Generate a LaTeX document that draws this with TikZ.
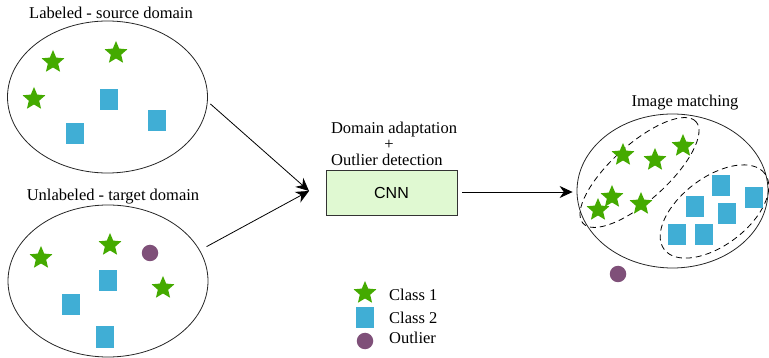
\documentclass[tikz,border=0pt]{standalone}
\usepackage{fontspec}
\setmainfont{Liberation Serif}
\newfontfamily\sansf{Liberation Sans}
\usetikzlibrary{shapes.geometric,arrows.meta}
\definecolor{stargreen}{HTML}{44AA00}
\definecolor{sqblue}{HTML}{40AED5}
\definecolor{outpurple}{HTML}{7F5079}
\definecolor{boxgreen}{HTML}{E0F9D2}
\begin{document}
\begin{tikzpicture}[x=1pt,y=-1pt,
  every node/.style={font=\fontsize{16.5}{19}\selectfont},
  domain/.style={draw=black!85,line width=0.8pt,ellipse,minimum width=#1,inner sep=0pt},
  starnode/.style={star,star points=5,star point ratio=2.2,minimum size=24pt,inner sep=0pt,fill=stargreen,draw=none},
  sqnode/.style={rectangle,minimum width=18pt,minimum height=21pt,inner sep=0pt,fill=sqblue,draw=none},
  outnode/.style={circle,minimum size=16.5pt,inner sep=0pt,fill=outpurple,draw=none},
  grp/.style={draw=black,dash pattern=on 6pt off 4pt,line width=0.8pt,ellipse,inner sep=0pt},
  arr/.style={-{Stealth[length=13pt,width=12pt]},line width=0.8pt},
  lbl/.style={inner sep=0pt}]
\useasboundingbox (0,0) rectangle (769,358);
% domains
\node[domain=200pt,minimum height=152pt] (topE) at (107.5,97) {};
\node[domain=200pt,minimum height=152pt] (botE) at (108,281) {};
\node[domain=191pt,minimum height=154pt] (rightE) at (672.5,191) {};
\node[lbl] (topL) at (111,13) {Labeled - source domain};
\node[lbl] (botL) at (113,197) {Unlabeled - target domain};
\node[lbl] (rightL) at (685,103) {Image matching};
% source items
\node[starnode] (ts1) at (53,62) {};
\node[starnode] (ts2) at (116,53) {};
\node[starnode] (ts3) at (34,99) {};
\node[sqnode] (tq1) at (109,100) {};
\node[sqnode] (tq2) at (75,134) {};
\node[sqnode] (tq3) at (157,121) {};
% target items
\node[starnode] (bs1) at (41,258) {};
\node[starnode] (bs2) at (110,245) {};
\node[starnode] (bs3) at (163,288) {};
\node[outnode] (bo1) at (150,253) {};
\node[sqnode] (bq1) at (108,281) {};
\node[sqnode] (bq2) at (71,305) {};
\node[sqnode] (bq3) at (105,337) {};
% CNN
\node[draw=black!80,line width=0.8pt,fill=boxgreen,minimum width=131pt,minimum height=45pt,inner sep=0pt,font=\sansf\fontsize{16}{19}\selectfont] (cnn) at (391.5,193) {CNN};
\node[lbl] (da) at (394,130) {Domain adaptation};
\node[lbl] (plus) at (389,145) {+};
\node[lbl,anchor=west] (od) at (331,160) {Outlier detection};
\coordinate (meet) at (309,191);
\draw[arr] ([xshift=3pt]topE.-4) -- (meet);
\draw[arr] ([xshift=9pt]botE.21) -- (meet);
\draw[arr] ([xshift=5pt,yshift=1pt]cnn.east) -- ([xshift=-4pt,yshift=1pt]cnn.east -| rightE.west);
% groups
\node[grp,minimum width=152pt,minimum height=56pt,rotate=42] (g1) at (639.5,172.5) {};
\node[grp,minimum width=126pt,minimum height=68pt,rotate=37] (g2) at (714.5,211.5) {};
% matched items
\node[starnode] (rs1) at (623,155) {};
\node[starnode] (rs2) at (655,160) {};
\node[starnode] (rs3) at (683,146) {};
\node[starnode] (rs4) at (612,197) {};
\node[starnode] (rs5) at (598,210) {};
\node[starnode] (rs6) at (641,204) {};
\node[sqnode] (rq1) at (721,186) {};
\node[sqnode] (rq2) at (754,198) {};
\node[sqnode] (rq3) at (695,207) {};
\node[sqnode] (rq4) at (727,214) {};
\node[sqnode] (rq5) at (677,235) {};
\node[sqnode] (rq6) at (704,235) {};
\node[outnode] (ro1) at (618,274) {};
% legend
\node[starnode] (ls) at (365,293) {};
\node[sqnode] (lq) at (365,318) {};
\node[outnode] (lo) at (365,341) {};
\node[lbl,anchor=west] (lt1) at (389,295) {Class 1};
\node[lbl,anchor=west] (lt2) at (389,318) {Class 2};
\node[lbl,anchor=west] (lt3) at (389,338) {Outlier};
\end{tikzpicture}
\end{document}
